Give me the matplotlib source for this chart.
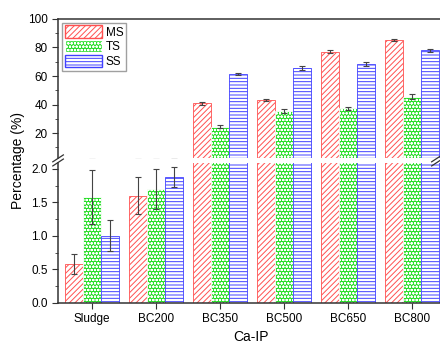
import numpy as np
import matplotlib
matplotlib.use("Agg")
from matplotlib import pyplot as plt
from matplotlib.patches import Patch

plt.rcParams['font.family'] = ['Liberation Sans', 'DejaVu Sans']
plt.rcParams['hatch.linewidth'] = 0.7

# data
categories = ['Sludge', 'BC200', 'BC350', 'BC500', 'BC650', 'BC800']
ms = [0.58, 1.6, 41.0, 43.2, 77.0, 85.3]
ts = [1.58, 1.7, 24.3, 35.7, 37.3, 45.6]
ss = [1.0, 1.88, 61.3, 65.8, 68.4, 78.0]
ms_err = [0.15, 0.28, 1.0, 0.8, 1.2, 0.8]
ts_err = [0.4, 0.3, 1.0, 1.5, 1.3, 1.8]
ss_err = [0.23, 0.15, 0.9, 1.5, 1.5, 1.2]

x = np.arange(len(categories))
w = 0.28

fig = plt.figure(figsize=(4.4, 3.45), dpi=100)
ax_top = fig.add_axes([0.132, 0.542, 0.868, 0.403])
ax_bot = fig.add_axes([0.132, 0.122, 0.868, 0.406])

styles = [
    ('MS', ms, ms_err, -w, dict(facecolor='white', edgecolor='#ff5050', hatch='//////')),
    ('TS', ts, ts_err, 0, dict(facecolor='#22dd22', edgecolor='white', hatch='ooooo')),
    ('SS', ss, ss_err, w, dict(facecolor='white', edgecolor='#4040ff', hatch='-----')),
]

for ax in (ax_top, ax_bot):
    for name, vals, errs, off, st in styles:
        ax.bar(x + off, vals, w, linewidth=0.6, **st)
        ax.errorbar(x + off, vals, yerr=errs, fmt='none', ecolor='#444444',
                    elinewidth=0.8, capsize=2.5, capthick=0.8)
    ax.set_xlim(-0.53, 5.44)
    for s in ax.spines.values():
        s.set_color('#333333')
        s.set_linewidth(1.1)
    ax.spines['right'].set_visible(False)
    ax.tick_params(axis='y', which='both', direction='out', labelsize=8.5, color='#333333')
    ax.tick_params(axis='y', which='major', length=4)
    ax.tick_params(axis='y', which='minor', length=2)

ax_top.set_ylim(2.5, 100)
ax_top.set_yticks([20, 40, 60, 80, 100])
ax_top.set_yticks([10, 30, 50, 70, 90], minor=True)
ax_top.spines['bottom'].set_visible(False)
ax_top.set_xticks([])

ax_bot.set_ylim(0, 2.09)
ax_bot.set_yticks([0.0, 0.5, 1.0, 1.5, 2.0])
ax_bot.set_yticklabels(['0.0', '0.5', '1.0', '1.5', '2.0'])
ax_bot.set_yticks([0.25, 0.75, 1.25, 1.75], minor=True)
ax_bot.spines['top'].set_visible(False)
ax_bot.set_xticks(x)
ax_bot.set_xticklabels(categories, fontsize=8.5)
ax_bot.tick_params(axis='x', direction='out', length=4, color='#333333')

# break marks
for xb in (0.132, 0.993):
    for dy in (-0.006, 0.006):
        yy = 0.535 + dy
        fig.add_artist(plt.Line2D([xb - 0.012, xb + 0.012], [yy - 0.01, yy + 0.01],
                                  color='#333333', lw=0.9))

handles = [Patch(label=n, **st) for n, _, _, _, st in styles]
ax_top.legend(handles=handles, loc='upper left', fontsize=8.5, frameon=True, fancybox=False,
              edgecolor='#888888', handlelength=3.2, handleheight=1.2, borderpad=0.25,
              labelspacing=0.15, handletextpad=0.3, borderaxespad=0.3)

fig.text(18 / 440, 1 - 160 / 345, 'Percentage (%)', rotation=90, ha='center', va='center', fontsize=10)
fig.text(251 / 440, 1 - 337 / 345, 'Ca-IP', ha='center', va='center', fontsize=10)

fig.savefig('out.png', dpi=100)
